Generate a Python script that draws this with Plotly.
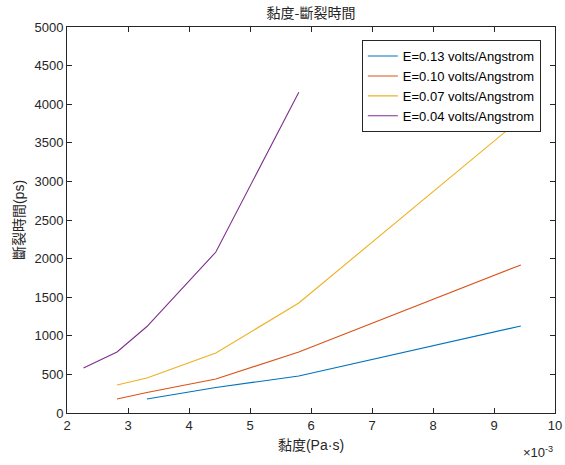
import plotly.graph_objects as go

x_013 = [3.31, 4.44, 5.80, 9.44]
y_013 = [181, 330, 480, 1128]
x_010 = [2.82, 3.31, 4.44, 5.80, 9.44]
y_010 = [181, 265, 440, 790, 1918]
x_007 = [2.82, 3.31, 4.44, 5.80, 9.44]
y_007 = [362, 453, 777, 1425, 3810]
x_004 = [2.27, 2.82, 3.31, 4.44, 5.80]
y_004 = [583, 790, 1120, 2085, 4155]

names = ["E=0.13 volts/Angstrom", "E=0.10 volts/Angstrom",
         "E=0.07 volts/Angstrom", "E=0.04 volts/Angstrom"]
colors = ["#0072BD", "#D95319", "#EDB120", "#7E2F8E"]
xticks = [2, 3, 4, 5, 6, 7, 8, 9, 10]
yticks = list(range(0, 5001, 500))

fig = go.Figure()
for xs, ys, n, c in zip([x_013, x_010, x_007, x_004], [y_013, y_010, y_007, y_004], names, colors):
    fig.add_trace(go.Scatter(x=xs, y=ys, mode="lines", name=n,
                             line=dict(color=c, width=1.1)))

axis_common = dict(showgrid=False, zeroline=False, showline=True, linecolor="#262626",
                   linewidth=1, mirror="ticks", ticks="inside", ticklen=5, automargin=False,
                   tickcolor="#262626", tickfont=dict(family="Liberation Sans, Arial", size=13, color="#262626"))

fig.update_layout(
    width=565, height=465,
    margin=dict(l=67, r=10, t=27, b=52, autoexpand=False),
    paper_bgcolor="white", plot_bgcolor="white",
    title=dict(text="黏度-斷裂時間", x=0.5, xref="paper", xanchor="center", y=0.972, yanchor="middle",
               font=dict(family="Noto Sans CJK TC", size=14, color="#262626")),
    xaxis=dict(range=[2, 10], tickvals=xticks, ticktext=[str(v) for v in xticks],
               title=dict(text="黏度(Pa·s)", standoff=8,
                          font=dict(family="Liberation Sans, Noto Sans CJK TC", size=14, color="#262626")),
               **axis_common),
    yaxis=dict(range=[0, 5000], tickvals=yticks, ticktext=[str(v) for v in yticks],
               title=dict(text="斷裂時間(ps)", standoff=6,
                          font=dict(family="Liberation Sans, Noto Sans CJK TC", size=14, color="#262626")),
               **axis_common),
    legend=dict(x=0.971, y=0.966, xanchor="right", yanchor="top",
                bgcolor="white", bordercolor="#262626", borderwidth=1,
                font=dict(family="Liberation Sans, Arial", size=13, color="#000000"),
                tracegroupgap=0, itemwidth=30),
    showlegend=True,
)
fig.add_annotation(x=1.0, y=-0.128, xref="paper", yref="paper", xanchor="right", yanchor="bottom",
                   text="×10<sup>-3</sup>", showarrow=False,
                   font=dict(family="Liberation Sans, Arial", size=13, color="#262626"))

fig.write_html("out.html")
